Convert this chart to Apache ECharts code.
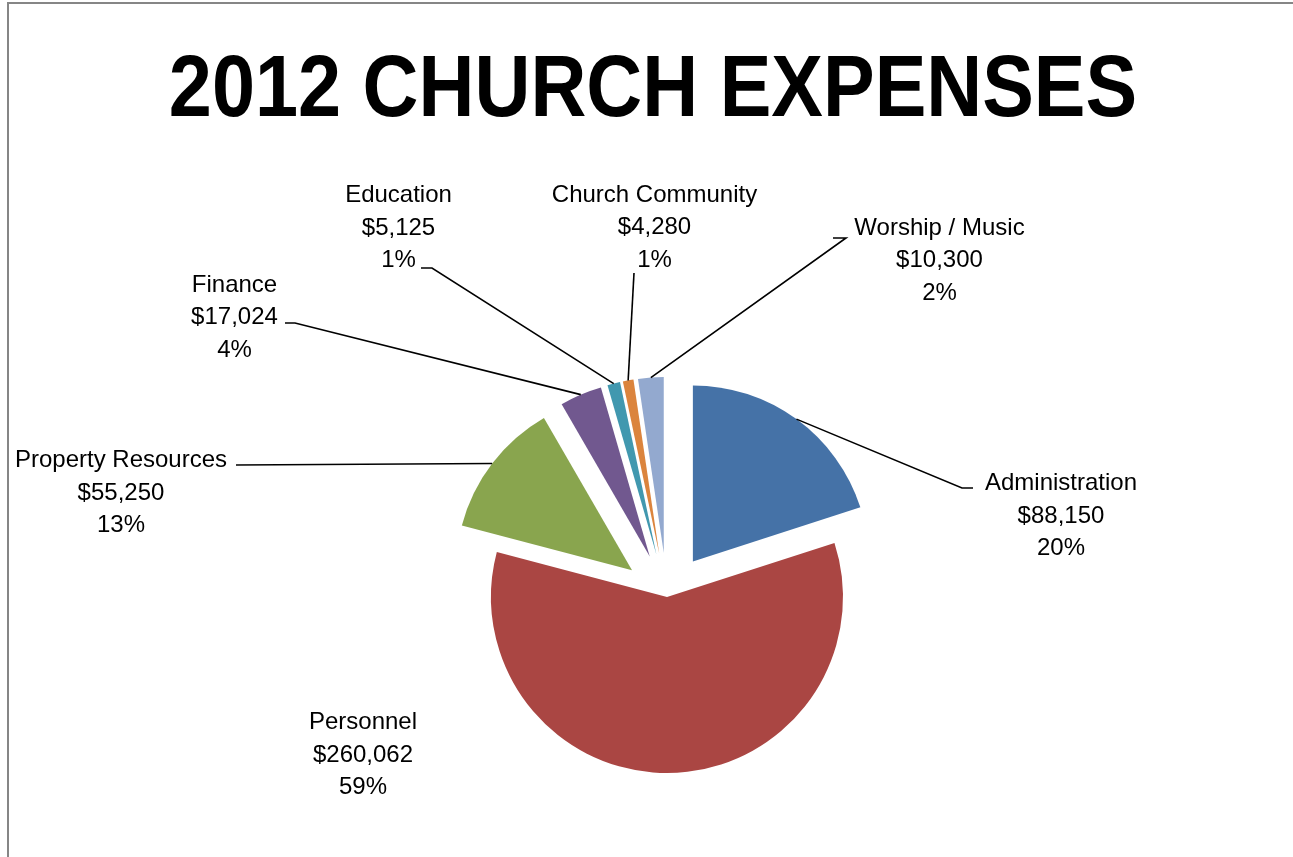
<!DOCTYPE html>
<html>
<head>
<meta charset="utf-8">
<script src="https://cdn.jsdelivr.net/npm/echarts@6.0.0/dist/echarts.min.js"></script>
<style>
html,body{margin:0;padding:0;background:#fff;}
#chart{width:1293px;height:857px;}
</style>
</head>
<body>
<div id="chart"></div>
<script>
// ---- data ----
const chartTitle = '2012 CHURCH EXPENSES';
const categories = ['Administration', 'Personnel', 'Property Resources', 'Finance', 'Education', 'Church Community', 'Worship / Music'];
const amounts = [88150, 260062, 55250, 17024, 5125, 4280, 10300];

// ---- styles / layout (not data) ----
const sliceColors = ['#4572A7', '#AA4643', '#89A54E', '#71588F', '#4198AF', '#DB843D', '#93A9CF'];
const notExploded = ['Personnel'];
const EXPLODE = 44;
const PIE_CENTER = [667, 597];
const PIE_RADIUS = 176;
const LABEL_FONT = 'Liberation Sans, Arial, sans-serif';
const labelBoxes = {
  'Administration':     { x: 1061, y: 516, attach: [[962, 488], [973, 488]] },
  'Personnel':          { x: 363,  y: 755, attach: null },
  'Property Resources': { x: 121,  y: 493, attach: [[236, 465]] },
  'Finance':            { x: 234.5, y: 317.5, attach: [[295, 323], [285, 323]] },
  'Education':          { x: 398.5, y: 228, attach: [[432, 268], [421, 268]] },
  'Church Community':   { x: 654.5, y: 227.5, attach: [[634, 273]] },
  'Worship / Music':    { x: 939.5, y: 260.5, attach: [[846, 238], [833, 238]] }
};

const chart = echarts.init(document.getElementById('chart'), null, { renderer: 'canvas' });

const visibleData = categories.map((name, i) => ({
  name: name,
  value: amounts[i],
  selected: notExploded.indexOf(name) < 0,
  itemStyle: { color: sliceColors[i] }
}));

const labelData = categories.map((name, i) => ({
  name: name,
  value: amounts[i],
  labelLine: { show: notExploded.indexOf(name) < 0 }
}));

function fmtMoney(v) {
  return '$' + v.toLocaleString('en-US');
}

const option = {
  animation: false,
  backgroundColor: '#ffffff',
  graphic: [
    {
      type: 'rect',
      silent: true,
      z: -10,
      shape: { x: 8, y: 3, width: 1310, height: 900 },
      style: { fill: 'none', stroke: '#868686', lineWidth: 2 }
    },
    {
      type: 'text',
      silent: true,
      x: 653,
      y: 92,
      scaleX: 0.88,
      style: {
        text: chartTitle,
        fill: '#000000',
        align: 'center',
        verticalAlign: 'middle',
        fontFamily: 'Liberation Sans, Arial, sans-serif',
        fontWeight: 'bold',
        fontSize: 88
      }
    }
  ],
  series: [
    {
      type: 'pie',
      name: 'expenses',
      center: PIE_CENTER,
      radius: PIE_RADIUS,
      startAngle: 90,
      clockwise: true,
      selectedMode: 'multiple',
      selectedOffset: EXPLODE,
      avoidLabelOverlap: false,
      silent: true,
      label: { show: false },
      labelLine: { show: false },
      itemStyle: { borderWidth: 0 },
      select: { itemStyle: { borderWidth: 0 } },
      emphasis: { disabled: true },
      data: visibleData
    },
    {
      type: 'pie',
      name: 'labels',
      center: PIE_CENTER,
      radius: PIE_RADIUS,
      startAngle: 90,
      clockwise: true,
      selectedMode: false,
      avoidLabelOverlap: false,
      silent: true,
      z: 3,
      itemStyle: { color: 'rgba(0,0,0,0)', borderWidth: 0 },
      emphasis: { disabled: true },
      label: {
        show: true,
        position: 'outside',
        color: '#000000',
        fontFamily: LABEL_FONT,
        fontSize: 24,
        lineHeight: 32.5,
        align: 'center',
        formatter: function (p) {
          return p.name + '\n' + fmtMoney(p.value) + '\n' + Math.round(p.percent) + '%';
        }
      },
      labelLine: {
        show: true,
        length: 15,
        length2: 10,
        lineStyle: { color: '#000000', width: 1.6 }
      },
      labelLayout: function (p) {
        const name = categories[p.dataIndex];
        const box = labelBoxes[name];
        const res = { x: box.x, y: box.y, align: 'center', verticalAlign: 'middle' };
        const pts = p.labelLinePoints;
        if (box.attach && pts && pts.length >= 2) {
          const dx = pts[1][0] - pts[0][0];
          const dy = pts[1][1] - pts[0][1];
          const L = Math.hypot(dx, dy) || 1;
          const off = notExploded.indexOf(name) < 0 ? EXPLODE : 0;
          const start = [pts[0][0] + dx / L * off, pts[0][1] + dy / L * off];
          res.labelLinePoints = [start].concat(box.attach);
        }
        return res;
      },
      data: labelData
    }
  ]
};

chart.setOption(option);
</script>
</body>
</html>
